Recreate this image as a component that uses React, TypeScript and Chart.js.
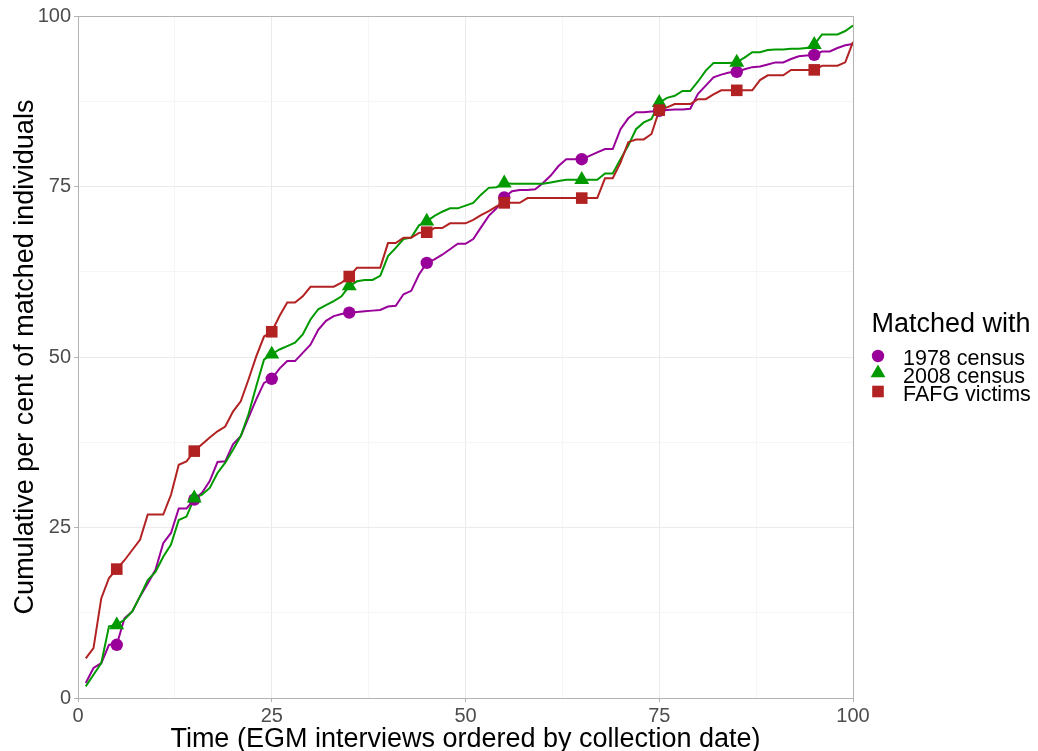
import React, { useEffect, useRef } from 'react';
import { Chart, registerables } from 'chart.js';

Chart.register(...registerables);

// Interview index (x)
const interviews = [
  1, 2, 3, 4, 5, 6, 7, 8, 9, 10, 11, 12, 13, 14, 15, 16, 17, 18, 19, 20,
  21, 22, 23, 24, 25, 26, 27, 28, 29, 30, 31, 32, 33, 34, 35, 36, 37, 38, 39, 40,
  41, 42, 43, 44, 45, 46, 47, 48, 49, 50, 51, 52, 53, 54, 55, 56, 57, 58, 59, 60,
  61, 62, 63, 64, 65, 66, 67, 68, 69, 70, 71, 72, 73, 74, 75, 76, 77, 78, 79, 80,
  81, 82, 83, 84, 85, 86, 87, 88, 89, 90, 91, 92, 93, 94, 95, 96, 97, 98, 99, 100,
];

// Interviews where a marker is shown
const markedInterviews = [5, 15, 25, 35, 45, 55, 65, 75, 85, 95];

const census1978 = [
  2.2, 4.4, 5.1, 7.8, 7.8, 11.7, 12.7, 14.9, 16.8, 18.8,
  22.7, 24.2, 27.8, 27.8, 29.1, 30.1, 31.8, 34.6, 34.7, 37.2,
  38.4, 41.1, 43.8, 46.2, 46.8, 48.3, 49.4, 49.4, 50.6, 51.8,
  54.0, 55.3, 56.0, 56.3, 56.5, 56.6, 56.7, 56.8, 56.9, 57.4,
  57.5, 59.2, 59.7, 62.1, 63.8, 64.3, 65.0, 65.8, 66.6, 66.6,
  67.3, 69.0, 70.7, 71.8, 73.4, 74.3, 74.5, 74.5, 74.6, 75.5,
  76.6, 78.0, 79.0, 79.0, 79.0, 79.5, 80.0, 80.5, 80.5, 83.4,
  85.0, 85.9, 85.9, 86.0, 86.1, 86.2, 86.3, 86.3, 86.4, 88.6,
  89.8, 91.0, 91.4, 91.7, 91.8, 92.2, 92.5, 92.6, 92.9, 93.2,
  93.2, 93.7, 94.1, 94.2, 94.3, 94.8, 94.8, 95.3, 95.7, 95.9,
];

const census2008 = [
  1.7, 3.4, 5.1, 10.5, 10.7, 11.5, 12.7, 14.9, 17.3, 18.5,
  20.7, 22.5, 26.1, 26.6, 29.3, 29.8, 30.8, 33.0, 34.5, 36.4,
  38.4, 41.6, 45.7, 49.6, 50.4, 51.1, 51.6, 52.1, 53.3, 55.5,
  57.0, 57.6, 58.2, 58.9, 60.4, 61.1, 61.3, 61.3, 61.9, 64.8,
  66.0, 67.3, 67.5, 69.3, 69.9, 70.7, 71.3, 71.8, 71.8, 72.2,
  72.6, 73.8, 74.8, 74.9, 75.5, 75.4, 75.4, 75.4, 75.4, 75.4,
  75.6, 75.8, 76.0, 76.0, 76.0, 76.0, 76.0, 76.9, 76.9, 79.0,
  81.0, 83.4, 84.4, 84.9, 87.3, 88.0, 88.3, 89.0, 89.0, 90.4,
  92.0, 93.1, 93.1, 93.1, 93.2, 93.9, 94.7, 94.7, 95.0, 95.1,
  95.1, 95.2, 95.2, 95.3, 95.8, 97.3, 97.3, 97.3, 97.8, 98.6,
];

const fafgVictims = [
  5.8, 7.3, 14.6, 17.6, 18.9, 20.2, 21.7, 23.2, 26.9, 26.9,
  26.9, 29.8, 34.2, 34.7, 36.2, 37.2, 38.2, 39.1, 39.8, 42.0,
  43.5, 46.7, 50.1, 53.0, 53.7, 56.0, 58.0, 58.0, 58.9, 60.3,
  60.3, 60.3, 60.3, 60.9, 61.8, 63.1, 63.1, 63.1, 63.1, 66.7,
  66.7, 67.5, 67.5, 68.2, 68.3, 68.9, 68.9, 69.6, 69.6, 69.6,
  70.1, 70.8, 71.4, 72.1, 72.6, 72.6, 72.6, 73.3, 73.3, 73.3,
  73.3, 73.3, 73.3, 73.3, 73.3, 73.3, 73.3, 76.2, 76.2, 78.5,
  81.5, 81.9, 81.9, 82.7, 86.2, 86.6, 87.1, 87.1, 87.1, 87.8,
  87.8, 88.5, 89.1, 89.1, 89.1, 89.1, 89.1, 90.6, 91.3, 91.3,
  91.3, 92.1, 92.1, 92.1, 92.1, 92.7, 92.7, 92.7, 93.2, 96.2,
];

const seriesLabels = ['1978 census', '2008 census', 'FAFG victims'];
const axisTicks = [0, 25, 50, 75, 100];

const FONT = "'Liberation Sans', Arial, Helvetica, sans-serif";
const COLORS = ['#990099', '#009900', '#B22222'];
const STYLES: any[] = ['circle', 'triangle', 'rect'];
const RADII = [6.2, 8.6, 8.2];

const framePlugin = {
  id: 'panelFrame',
  afterDatasetsDraw(chart: any) {
    const { ctx, chartArea } = chart;
    const l = Math.round(chartArea.left) + 0.5;
    const t = Math.round(chartArea.top) + 0.5;
    const r = Math.round(chartArea.right) + 0.5;
    const b = Math.round(chartArea.bottom) + 0.5;
    ctx.save();
    ctx.strokeStyle = '#B3B3B3';
    ctx.lineWidth = 1;
    ctx.strokeRect(l, t, r - l, b - t);
    ctx.restore();
  },
};

function toPoints(values: number[]) {
  return interviews.map((x, i) => ({ x, y: values[i] }));
}
function toMarked(values: number[]) {
  return interviews
    .map((x, i) => ({ x, y: values[i] }))
    .filter((p) => markedInterviews.includes(p.x));
}

export default function App() {
  const ref = useRef<HTMLCanvasElement>(null);

  useEffect(() => {
    if (!ref.current) return;
    const all = [census1978, census2008, fafgVictims];
    const pointSets = [2, 1, 0].map((k) => ({
      label: seriesLabels[k] + ' points',
      data: toMarked(all[k]),
      showLine: false,
      pointStyle: STYLES[k],
      pointRadius: RADII[k],
      pointBackgroundColor: COLORS[k],
      pointBorderColor: COLORS[k],
      pointBorderWidth: 0,
      borderColor: COLORS[k],
      backgroundColor: COLORS[k],
    }));
    const lineSets = [2, 1, 0].map((k) => ({
      label: seriesLabels[k],
      data: toPoints(all[k]),
      showLine: true,
      borderColor: COLORS[k],
      backgroundColor: COLORS[k],
      borderWidth: 2,
      pointRadius: 0,
      tension: 0,
      fill: false,
    }));

    const isMajor = (v: number) => axisTicks.includes(v);

    const chart = new Chart(ref.current, {
      type: 'scatter',
      data: { datasets: [...pointSets, ...lineSets] as any },
      plugins: [framePlugin],
      options: {
        responsive: false,
        animation: false,
        events: [],
        layout: { padding: { left: 0, right: 185, top: 16, bottom: 0 } },
        plugins: {
          legend: { display: false },
          tooltip: { enabled: false },
        },
        scales: {
          x: {
            type: 'linear',
            min: 0,
            max: 100,
            afterFit: (s: any) => {
              s.height = 53;
            },
            ticks: {
              stepSize: 12.5,
              autoSkip: false,
              maxRotation: 0,
              padding: 2,
              color: '#4D4D4D',
              font: { family: FONT, size: 20 },
              callback: (v: any) => (isMajor(Number(v)) ? String(v) : ''),
            },
            grid: {
              color: (c: any) => (isMajor(c.tick?.value) ? '#EBEBEB' : '#F5F5F5'),
              tickColor: (c: any) => (isMajor(c.tick?.value) ? '#B3B3B3' : 'rgba(0,0,0,0)'),
              tickLength: 4,
            },
            border: { display: true, color: '#B3B3B3', width: 1 },
            title: {
              display: true,
              text: 'Time (EGM interviews ordered by collection date)',
              color: '#000000',
              font: { family: FONT, size: 27, lineHeight: 0.8 },
              padding: { top: 0, bottom: 1 },
            },
          },
          y: {
            type: 'linear',
            min: 0,
            max: 100,
            afterFit: (s: any) => {
              s.width = 78;
            },
            ticks: {
              stepSize: 12.5,
              autoSkip: false,
              padding: 3,
              color: '#4D4D4D',
              font: { family: FONT, size: 20 },
              callback: (v: any) => (isMajor(Number(v)) ? String(v) : ''),
            },
            grid: {
              color: (c: any) => (isMajor(c.tick?.value) ? '#EBEBEB' : '#F5F5F5'),
              tickColor: (c: any) => (isMajor(c.tick?.value) ? '#B3B3B3' : 'rgba(0,0,0,0)'),
              tickLength: 4,
            },
            border: { display: true, color: '#B3B3B3', width: 1 },
            title: {
              display: true,
              text: 'Cumulative per cent of matched individuals',
              color: '#000000',
              font: { family: FONT, size: 27, lineHeight: 0.8 },
              padding: { top: 15, bottom: 0 },
            },
          },
        },
      } as any,
    });
    return () => chart.destroy();
  }, []);

  const legendTop = [347.8, 366.3, 383.5];
  const markerCy = [356, 373, 391.5];

  return (
    <div style={{ position: 'absolute', left: 0, top: 0, width: 1038, height: 751, background: '#fff' }}>
      <canvas ref={ref} width={1038} height={751} style={{ display: 'block', width: 1038, height: 751 }} />
      <div
        style={{
          position: 'absolute',
          left: 871.5,
          top: 310,
          fontFamily: FONT,
          fontSize: 27,
          lineHeight: '27px',
          color: '#000',
          whiteSpace: 'nowrap',
        }}
      >
        Matched with
      </div>
      <svg style={{ position: 'absolute', left: 0, top: 0, pointerEvents: 'none' }} width={1038} height={751}>
        <circle cx={878} cy={markerCy[0]} r={6.2} fill={COLORS[0]} />
        <polygon
          points={`${878 - 7.4},${markerCy[1] + 4.3} ${878 + 7.4},${markerCy[1] + 4.3} ${878},${markerCy[1] - 8.6}`}
          fill={COLORS[1]}
        />
        <rect x={878 - 5.8} y={markerCy[2] - 5.8} width={11.6} height={11.6} fill={COLORS[2]} />
      </svg>
      {seriesLabels.map((lab, i) => (
        <div
          key={lab}
          style={{
            position: 'absolute',
            left: 903,
            top: legendTop[i],
            fontFamily: FONT,
            fontSize: 21.5,
            lineHeight: '21.5px',
            color: '#000',
            whiteSpace: 'nowrap',
          }}
        >
          {lab}
        </div>
      ))}
    </div>
  );
}
